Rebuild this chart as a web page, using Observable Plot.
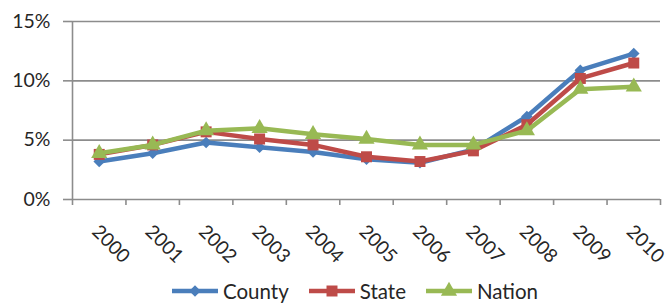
<!DOCTYPE html>
<html>
<head>
<meta charset="utf-8">
<script src="https://cdn.jsdelivr.net/npm/d3@7"></script>
<script src="https://cdn.jsdelivr.net/npm/@observablehq/plot@0.6"></script>
<style>
  html, body { margin: 0; padding: 0; background: #fff; }
  body { width: 670px; height: 306px; overflow: hidden; font-family: Lato, "Open Sans", sans-serif; }
  #legend { position: relative; height: 30px; display: flex; align-items: center; padding-left: 172px; gap: 0; font-size: 20.5px; color: #262626; }
  .item { display: flex; align-items: center; margin-right: 20px; }
  .item svg { margin-right: 5px; }
</style>
</head>
<body>
<div id="chart"></div>
<div id="legend"></div>
<script>
const years = [2000, 2001, 2002, 2003, 2004, 2005, 2006, 2007, 2008, 2009, 2010];
const county = [3.2, 3.9, 4.8, 4.4, 4.0, 3.4, 3.1, 4.2, 7.0, 10.9, 12.3];
const state  = [3.8, 4.6, 5.7, 5.1, 4.6, 3.6, 3.2, 4.1, 6.3, 10.2, 11.5];
const nation = [3.9, 4.6, 5.8, 6.0, 5.5, 5.1, 4.6, 4.6, 5.8, 9.3, 9.5];
const seriesNames = ["County", "State", "Nation"];
const seriesValues = [county, state, nation];
const colors = ["#4a7ebb", "#be4b48", "#98b954"];
const markerColors = ["#4a7ebb", "#be4b48", "#98b954"];
const symbols = ["diamond2", "square", "triangle"];
const symbolR = [5.2, 6.2, 6.0];
const yTicks = [0, 5, 10, 15];

const bounds = years.map(y => y - 0.5).concat([years[years.length - 1] + 0.5]);
const gray = "#8c8c8c";

const marks = [
  Plot.gridY(yTicks.slice(1), {stroke: gray, strokeOpacity: 1, strokeWidth: 1.6}),
  Plot.ruleX([bounds[0]], {y1: yTicks[0], y2: yTicks[yTicks.length - 1], stroke: gray, strokeWidth: 1.6}),
  Plot.ruleY([yTicks[0]], {stroke: gray, strokeWidth: 1.6}),
  Plot.axisY(yTicks, {tickFormat: d => d + "%", tickSize: 9, tickPadding: 13, fontSize: 19.5, stroke: gray, strokeWidth: 1.6, fill: "#262626", label: null}),
  Plot.axisX(bounds, {tickSize: 6, tickFormat: () => "", stroke: gray, strokeWidth: 1.6, label: null}),
  Plot.axisX(years, {tickSize: 0, tickRotate: 45, tickFormat: d => String(d), fontSize: 19, fill: "#262626", tickPadding: 29, dx: -4, label: null})
];

seriesValues.forEach((vals, i) => {
  const data = years.map((y, j) => ({year: y, value: vals[j]}));
  marks.push(Plot.line(data, {x: "year", y: "value", stroke: colors[i], strokeWidth: 4.5, strokeLinejoin: "round"}));
  marks.push(Plot.dot(data, {x: "year", y: "value", symbol: () => symbols[i], r: symbolR[i], fill: markerColors[i], stroke: "none"}));
});

const chart = Plot.plot({
  width: 670,
  height: 276,
  marginLeft: 72,
  marginRight: 10,
  marginTop: 21,
  marginBottom: 77,
  style: {fontFamily: "Lato, 'Open Sans', sans-serif", background: "#fff", color: "#262626", overflow: "visible"},
  x: {domain: [bounds[0], bounds[bounds.length - 1]], axis: null},
  y: {domain: [yTicks[0], yTicks[yTicks.length - 1]], axis: null},
  symbol: {type: "identity"},
  marks
});
document.getElementById("chart").appendChild(chart);

const legend = document.getElementById("legend");
const d3sym = {diamond2: d3.symbolDiamond2, square: d3.symbolSquare, triangle: d3.symbolTriangle};
seriesNames.forEach((name, i) => {
  const item = document.createElement("div");
  item.className = "item";
  const svg = d3.create("svg").attr("width", 46).attr("height", 20);
  svg.append("line").attr("x1", 0).attr("x2", 46).attr("y1", 10).attr("y2", 10)
    .attr("stroke", colors[i]).attr("stroke-width", 4.5);
  svg.append("path").attr("transform", "translate(23,10)")
    .attr("d", d3.symbol(d3sym[symbols[i]], Math.PI * symbolR[i] * symbolR[i])())
    .attr("fill", markerColors[i]);
  item.appendChild(svg.node());
  const t = document.createElement("span");
  t.textContent = name;
  item.appendChild(t);
  legend.appendChild(item);
});
</script>
</body>
</html>
